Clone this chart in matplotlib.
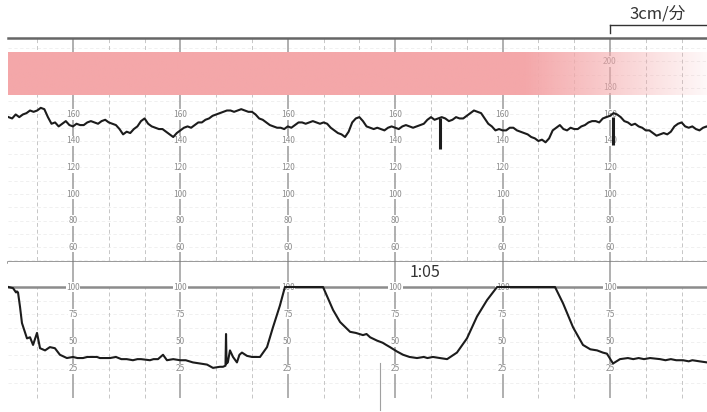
import numpy as np
import matplotlib.pyplot as plt
from matplotlib.colors import to_rgb
from matplotlib.lines import Line2D

plt.rcParams['font.family'] = ['Noto Sans CJK JP', 'DejaVu Sans']

# 胎児心拍数 (bpm) 2秒ごと、チャート時刻[s]
fhr_t = np.arange(24, 417, 2)
fhr_bpm = [158, 157, 160, 158, 160, 161, 163, 162, 163, 165,
           164, 158, 153, 154, 151, 153, 155, 152, 151, 153,
           152, 152, 154, 155, 154, 153, 155, 156, 154, 153,
           152, 149, 145, 147, 146, 149, 151, 155, 157, 153,
           151, 150, 149, 149, 147, 145, 143, 146, 148, 150,
           151, 150, 152, 154, 154, 156, 157, 159, 160, 161,
           162, 163, 163, 162, 163, 164, 163, 162, 162, 160,
           157, 156, 154, 152, 151, 150, 150, 149, 151, 150,
           152, 154, 154, 153, 154, 155, 154, 153, 154, 153,
           150, 148, 146, 145, 143, 147, 154, 157, 158, 155,
           151, 150, 149, 150, 149, 148, 150, 151, 150, 149,
           151, 152, 151, 150, 151, 152, 153, 156, 158, 156,
           157, 158, 157, 155, 156, 158, 157, 157, 159, 161,
           163, 162, 161, 157, 153, 151, 148, 149, 148, 148,
           150, 150, 148, 147, 146, 145, 143, 142, 140, 141,
           139, 142, 148, 150, 152, 149, 148, 150, 149, 149,
           151, 152, 154, 155, 155, 154, 157, 158, 159, 161,
           160, 158, 155, 154, 152, 153, 151, 150, 148, 148,
           146, 144, 145, 146, 145, 147, 151, 153, 154, 151,
           150, 151, 149, 148, 150, 151, 149]

# 心拍の縦の針
spike_t = [265, 361.7]
spike_lo = [134, 137]
spike_hi = [157, 158]

# 子宮収縮 (mmHg)
uc_t = [24, 26.5, 28.2, 28.7, 29.3, 30.4, 31.5, 34.3, 36.0, 37.7, 39.9, 41.6,
        44.4, 47.1, 49.9, 52.7, 56.6, 60, 62.5, 65.6, 68, 70, 73.4, 75, 77,
        80.7, 84, 87, 90, 93.5, 96, 98, 103.0, 105, 107.5, 110.3, 112.5, 116,
        119.8, 123, 125, 127.0, 131, 134.9, 138.2, 142.1, 143.8, 145.2, 145.5,
        145.8, 146.5, 147.7, 149.4, 151.6, 153, 154.4, 157.2, 160.0, 164.5,
        168.4, 171.7, 175.6, 178.4, 199.7, 205.3, 209.2, 214.8, 218, 222.0,
        224, 226, 229.8, 233, 235, 237.1, 241, 244.4, 248, 252.2, 256, 258,
        261.1, 265, 269.0, 274.5, 280.1, 285.7, 291.3, 296.9, 329.3, 333.8,
        339.4, 344.9, 349, 352.8, 356, 358.3, 361.7, 365.6, 370, 373, 376, 379,
        382.4, 388, 391, 394, 397, 400.8, 404, 406, 410, 414.2]
uc_val = [100, 99, 95, 96, 95, 82, 67, 53, 54, 47, 58, 44,
          42, 45, 44, 38, 35, 36, 35, 35, 36, 36, 36, 35, 35,
          35, 36, 34, 34, 33, 34, 34, 33, 34, 34, 38, 33, 34,
          33, 33, 32, 31, 30, 29, 26, 27, 27, 28, 57,
          30, 31, 42, 36, 31, 38, 40, 37, 36, 36,
          45, 63, 83, 100, 100, 79, 68, 59, 58, 56,
          57, 54, 51, 49, 47, 45, 41, 38, 36, 35, 36, 35,
          36, 35, 34, 40, 53, 73, 88, 100, 100, 85,
          63, 47, 43, 42, 40, 39, 30, 34, 35, 34, 35, 34,
          35, 34, 33, 34, 33, 33, 32, 33, 32, 31]

fhr_labels = [60, 80, 100, 120, 140, 160, 180, 200]
uc_labels = [25, 50, 75, 100]
major_t = [60, 120, 180, 240, 300, 360]
minor_t = [t for t in range(40, 414, 20) if t % 60 != 0]

W, H = 707, 412
x0, x1 = 23.7, 414.2
trace_c = '#1c1c1c'

fig = plt.figure(figsize=(W / 100, H / 100), dpi=100)
ax1 = fig.add_axes([8 / W, 1 - 262 / H, 699 / W, 224 / H])
ax2 = fig.add_axes([8 / W, 1 - 400 / H, 699 / W, 138 / H])

for ax in (ax1, ax2):
    ax.set_xticks([])
    ax.set_yticks([])
    for s in ax.spines.values():
        s.set_visible(False)

# 心拍数パネル
for v in range(50, 215, 10):
    ax1.axhline(v, color='#eeeeee', lw=0.6, ls=(0, (4, 3)), zorder=1)
ax1.vlines(minor_t, 40, 230, color='#c6c6c6', lw=0.7, linestyles=(0, (4, 3)), zorder=1)
ax1.vlines(major_t, 40, 230, color='#9a9a9a', lw=1.1, zorder=2)
for t in major_t:
    for v in fhr_labels:
        ax1.text(t, v, str(v), ha='center', va='center', fontsize=6, color='#8c8c8c',
                 bbox=dict(fc='white', ec='none', pad=0.4), zorder=3)

band_x = np.linspace(x0, x1, 400)
alpha = np.interp(band_x, [313, x1], [1.0, 0.08])
band = np.zeros((1, len(band_x), 4))
band[..., :3] = to_rgb('#f4a7a9')
band[0, :, 3] = alpha
ax1.imshow(band, extent=(x0, x1, 174.7, 206.4), aspect='auto', zorder=5)

ax1.plot(fhr_t, fhr_bpm, color=trace_c, lw=1.5, zorder=6)
ax1.vlines(spike_t, spike_lo, spike_hi, color=trace_c, lw=2.2, zorder=6)
ax1.spines['top'].set_visible(True)
ax1.spines['top'].set_color('#666666')
ax1.spines['top'].set_linewidth(1.8)
ax1.spines['bottom'].set_visible(True)
ax1.spines['bottom'].set_color('#7a7a7a')
ax1.spines['bottom'].set_linewidth(1.8)
ax1.set_xlim(x0, x1)
ax1.set_ylim(48.7, 217.7)

# 子宮収縮パネル
for v in np.arange(12.5, 100, 12.5):
    ax2.axhline(v, color='#eeeeee', lw=0.6, ls=(0, (4, 3)), zorder=1)
ax2.vlines(minor_t, -2, 100, color='#c6c6c6', lw=0.7, linestyles=(0, (4, 3)), zorder=1)
ax2.vlines(major_t, -2, 130, color='#9a9a9a', lw=1.1, zorder=2)
ax2.axhline(100, color='#8c8c8c', lw=1.8, zorder=2)
for t in major_t:
    for v in uc_labels:
        ax2.text(t, v, str(v), ha='center', va='center', fontsize=6, color='#8c8c8c',
                 bbox=dict(fc='white', ec='none', pad=0.4), zorder=3)
ax2.plot(uc_t, uc_val, color=trace_c, lw=1.5, zorder=6)
ax2.set_xlim(x0, x1)
ax2.set_ylim(-3.4, 122.9)

# 注記
fig.text(425 / W, 1 - 272.5 / H, '1:05', ha='center', va='center', fontsize=11.5, color='#333333')
fig.text(658 / W, 1 - 14 / H, '3cm/分', ha='center', va='center', fontsize=12, color='#333333')
fig.add_artist(Line2D([610 / W, 1.0], [1 - 25 / H, 1 - 25 / H], color='#333333', lw=1.0))
fig.add_artist(Line2D([610 / W, 610 / W], [1 - 25 / H, 1 - 33 / H], color='#333333', lw=1.0))
fig.add_artist(Line2D([380 / W, 380 / W], [1 - 363 / H, 1 - 410 / H], color='#a0a0a0', lw=0.8))

fig.savefig('out.png', dpi=100)
